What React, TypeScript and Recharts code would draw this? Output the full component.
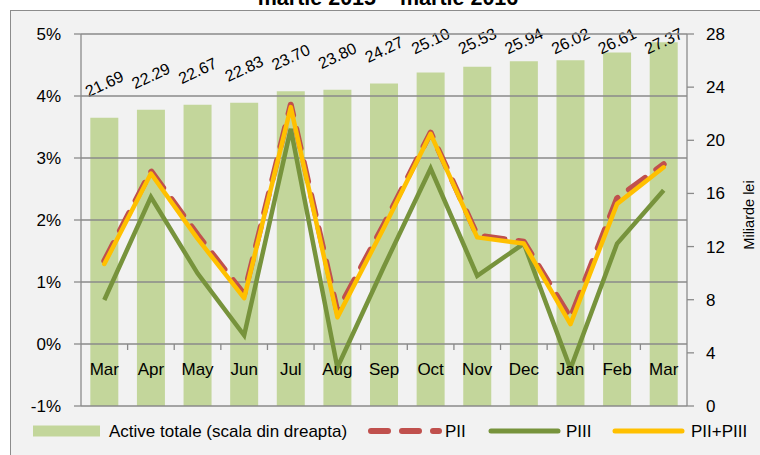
import React from 'react';
import { ComposedChart, Bar, Line, XAxis, YAxis, CartesianGrid, Legend, LabelList } from 'recharts';

const months = ['Mar', 'Apr', 'May', 'Jun', 'Jul', 'Aug', 'Sep', 'Oct', 'Nov', 'Dec', 'Jan', 'Feb', 'Mar'];
const activeTotale = [21.69, 22.29, 22.67, 22.83, 23.7, 23.8, 24.27, 25.1, 25.53, 25.94, 26.02, 26.61, 27.37];
const pII = [1.34, 2.79, 1.76, 0.8, 3.86, 0.52, 1.93, 3.41, 1.75, 1.65, 0.42, 2.35, 2.9];
const pIII = [0.71, 2.37, 1.14, 0.14, 3.47, -0.38, 1.25, 2.83, 1.1, 1.62, -0.4, 1.62, 2.48];
const pIIpIII = [1.29, 2.75, 1.7, 0.74, 3.82, 0.43, 1.88, 3.39, 1.72, 1.62, 0.32, 2.26, 2.85];
const pctTicks = [-1, 0, 1, 2, 3, 4, 5];
const leiTicks = [0, 4, 8, 12, 16, 20, 24, 28];

const seriesNames = {
  active: 'Active totale (scala din dreapta)',
  pII: 'PII',
  pIII: 'PIII',
  total: 'PII+PIII',
};
const titleText = 'martie 2015 \u2013 martie 2016';
const rightAxisTitle = 'Miliarde lei';

const data = months.map((m, i) => ({
  month: m,
  active: activeTotale[i],
  pII: pII[i],
  pIII: pIII[i],
  total: pIIpIII[i],
}));

const W = 760;
const H = 455;
const MARGIN = { top: 34, right: 0, bottom: 48, left: 10 };
const LEFT_W = 71;
const RIGHT_W = 73;
const XAXIS_H = 1;
const PLOT_TOP = MARGIN.top;
const PLOT_H = H - MARGIN.top - MARGIN.bottom - XAXIS_H;
const PLOT_W = W - MARGIN.left - MARGIN.right - LEFT_W - RIGHT_W;
const PCT_MIN = pctTicks[0];
const PCT_MAX = pctTicks[pctTicks.length - 1];
const LEI_MIN = leiTicks[0];
const LEI_MAX = leiTicks[leiTicks.length - 1];

const FONT = '"Liberation Sans", Arial, Helvetica, sans-serif';
const GRID = '#8a8a8a';
const C_BAR = '#c3d69b';
const C_RED = '#c0504d';
const C_GREEN = '#77933c';
const C_YELLOW = '#ffc000';

const XTick = (props: any) => {
  const { x, y, payload, index } = props;
  const zeroY = y - (PLOT_H * (0 - PCT_MIN)) / (PCT_MAX - PCT_MIN);
  const band = PLOT_W / months.length;
  return (
    <g>
      {index > 0 && (
        <line x1={x - band / 2} x2={x - band / 2} y1={zeroY} y2={zeroY + 6} stroke={GRID} strokeWidth={1.3} />
      )}
      <text x={x} y={zeroY + 31} textAnchor="middle" fontSize={17} fill="#000" fontFamily={FONT}>
        {payload.value}
      </text>
    </g>
  );
};

const BarValueLabel = (props: any) => {
  const { x, y, width, value } = props;
  const cx = Number(x) + Number(width) / 2;
  const cy = Math.max(Number(y) - 34, PLOT_TOP + 7);
  return (
    <text
      x={cx}
      y={cy}
      transform={`rotate(-25 ${cx} ${cy})`}
      textAnchor="middle"
      dominantBaseline="central"
      fontSize={16}
      fill="#000"
      fontFamily={FONT}
    >
      {Number(value).toFixed(2)}
    </text>
  );
};

const RightAxisLabel = (props: any) => {
  const vb = props.viewBox || { x: W - RIGHT_W, y: PLOT_TOP, width: RIGHT_W, height: PLOT_H };
  const cx = vb.x + vb.width - 11;
  const cy = vb.y + vb.height / 2 - 5;
  return (
    <text
      x={cx}
      y={cy}
      transform={`rotate(-90 ${cx} ${cy})`}
      textAnchor="middle"
      dominantBaseline="central"
      fontSize={14.5}
      fill="#000"
      fontFamily={FONT}
    >
      {rightAxisTitle}
    </text>
  );
};

const legendOrder = ['active', 'pII', 'pIII', 'total'];
const legendLayout: Record<string, { x: number; w: number; gap: number }> = {
  active: { x: 33, w: 67, gap: 9 },
  pII: { x: 368, w: 74, gap: 3 },
  pIII: { x: 489, w: 71, gap: 6 },
  total: { x: 613, w: 71, gap: 7 },
};

const LegendContent = (props: any) => {
  const payload: any[] = props.payload || [];
  const sorted = legendOrder
    .map((k) => payload.find((p) => p.dataKey === k))
    .filter(Boolean);
  const cy = 431;
  return (
    <div style={{ position: 'relative', height: 0 }}>
      <svg width={W} height={H} style={{ position: 'absolute', left: 0, top: 0, overflow: 'visible', pointerEvents: 'none' }}>
        {sorted.map((p: any) => {
          const L = legendLayout[p.dataKey];
          let sw: React.ReactNode = null;
          if (p.dataKey === 'active') {
            sw = <rect x={L.x} y={cy - 5.5} width={L.w} height={11} fill={p.color} />;
          } else if (p.dataKey === 'pII') {
            sw = (
              <line x1={L.x + 3} x2={L.x + L.w - 3} y1={cy} y2={cy} stroke={p.color} strokeWidth={6} strokeDasharray="17 14" strokeLinecap="round" />
            );
          } else {
            sw = (
              <line x1={L.x + 2} x2={L.x + L.w - 2} y1={cy} y2={cy} stroke={p.color} strokeWidth={5} strokeLinecap="round" />
            );
          }
          return (
            <g key={p.dataKey}>
              {sw}
              <text x={L.x + L.w + L.gap} y={cy + 6} fontSize={17} fill="#000" fontFamily={FONT}>
                {p.value}
              </text>
            </g>
          );
        })}
      </svg>
    </div>
  );
};

export default function App() {
  return (
    <div style={{ position: 'absolute', left: 0, top: 0, width: W, height: H, overflow: 'hidden', background: '#fff', fontFamily: FONT }}>
      <div
        style={{
          position: 'absolute',
          left: 10,
          top: 10,
          width: W + 20,
          height: H + 20,
          background: '#f2f2f2',
          border: '1.5px solid #8c8c8c',
        }}
      />
      <svg width={W} height={12} style={{ position: 'absolute', left: 0, top: 0, overflow: 'hidden' }}>
        <text x={388} y={4.5} textAnchor="middle" fontSize={21.5} fontWeight="bold" fill="#000" fontFamily={FONT}>
          {titleText}
        </text>
      </svg>

      {/* Layer 1: bars with their value labels (under the gridlines) */}
      <div style={{ position: 'absolute', left: 0, top: 0 }}>
        <ComposedChart width={W} height={H} data={data} margin={MARGIN} barCategoryGap="20%">
          <XAxis dataKey="month" height={XAXIS_H} axisLine={false} tickLine={false} tick={false} />
          <YAxis yAxisId="left" width={LEFT_W} domain={[PCT_MIN, PCT_MAX]} ticks={pctTicks} axisLine={false} tickLine={false} tick={false} allowDataOverflow />
          <YAxis yAxisId="right" orientation="right" width={RIGHT_W} domain={[LEI_MIN, LEI_MAX]} ticks={leiTicks} axisLine={false} tickLine={false} tick={false} />
          <Bar yAxisId="right" dataKey="active" name={seriesNames.active} fill={C_BAR} isAnimationActive={false}>
            <LabelList dataKey="active" content={<BarValueLabel />} />
          </Bar>
        </ComposedChart>
      </div>

      {/* Layer 2: grid, axes, lines and legend (over the bars) */}
      <div style={{ position: 'absolute', left: 0, top: 0 }}>
        <ComposedChart width={W} height={H} data={data} margin={MARGIN} barCategoryGap="20%">
          <CartesianGrid yAxisId="left" vertical={false} stroke={GRID} strokeWidth={1.3} />
          <XAxis
            dataKey="month"
            height={XAXIS_H}
            axisLine={false}
            tickLine={false}
            tickSize={0}
            tickMargin={0}
            interval={0}
            tick={<XTick />}
          />
          <YAxis
            yAxisId="left"
            orientation="left"
            width={LEFT_W}
            domain={[PCT_MIN, PCT_MAX]}
            ticks={pctTicks}
            tickFormatter={(v: number) => `${v}%`}
            axisLine={{ stroke: GRID, strokeWidth: 1.3 }}
            tickLine={{ stroke: GRID, strokeWidth: 1.3 }}
            tickSize={7}
            tickMargin={13}
            tick={{ fill: '#000', fontSize: 17, fontFamily: FONT }}
            allowDataOverflow
          />
          <YAxis
            yAxisId="right"
            orientation="right"
            width={RIGHT_W}
            domain={[LEI_MIN, LEI_MAX]}
            ticks={leiTicks}
            axisLine={{ stroke: GRID, strokeWidth: 1.3 }}
            tickLine={{ stroke: GRID, strokeWidth: 1.3 }}
            tickSize={7}
            tickMargin={12}
            tick={{ fill: '#000', fontSize: 17, fontFamily: FONT, textAnchor: 'start' }}
            label={{ content: <RightAxisLabel /> }}
          />
          <Bar yAxisId="right" dataKey="active" name={seriesNames.active} fill={C_BAR} fillOpacity={0} isAnimationActive={false} />
          <Line
            yAxisId="left"
            type="linear"
            dataKey="pIII"
            name={seriesNames.pIII}
            stroke={C_GREEN}
            strokeWidth={4.5}
            dot={false}
            strokeLinejoin="miter"
            isAnimationActive={false}
          />
          <Line
            yAxisId="left"
            type="linear"
            dataKey="pII"
            name={seriesNames.pII}
            stroke={C_RED}
            strokeWidth={6}
            strokeDasharray="20 14"
            strokeLinecap="round"
            strokeLinejoin="round"
            dot={false}
            isAnimationActive={false}
          />
          <Line
            yAxisId="left"
            type="linear"
            dataKey="total"
            name={seriesNames.total}
            stroke={C_YELLOW}
            strokeWidth={4.5}
            strokeLinecap="round"
            strokeLinejoin="round"
            dot={false}
            isAnimationActive={false}
          />
          <Legend
            verticalAlign="bottom"
            content={<LegendContent />}
            wrapperStyle={{ position: 'absolute', left: 0, top: 0, width: W, height: 0, bottom: 'auto' }}
          />
        </ComposedChart>
      </div>
    </div>
  );
}
